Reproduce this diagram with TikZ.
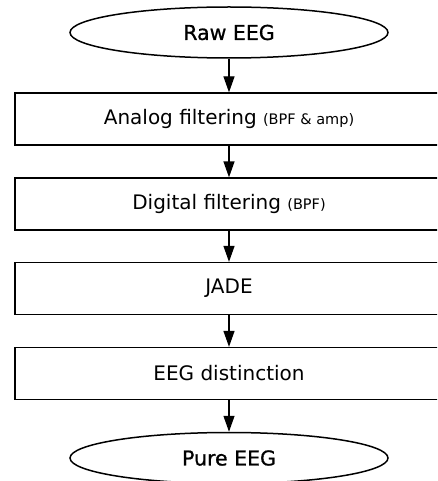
\documentclass[tikz,border=0pt]{standalone}
\usepackage{fontspec}
\setmainfont{DejaVu Sans}
\newfontfamily\termfont[FakeBold=0.8]{DejaVu Sans}
\usetikzlibrary{shapes.geometric,arrows.meta}
\tikzset{
  terminal/.style={draw, ellipse, line width=1.5pt, minimum width=318pt, minimum height=51pt, inner sep=0pt, font=\termfont\fontsize{20.5}{24}\selectfont},
  stepbox/.style={draw, rectangle, line width=1.3pt, minimum width=428pt, minimum height=52pt, inner sep=0pt, font=\fontsize{20}{24}\selectfont},
  flow/.style={line width=1.3pt, -{Triangle[length=16pt,width=11pt]}},
}
\newcommand{\paren}[1]{{\fontsize{14.5}{17}\selectfont #1}}
\begin{document}
\begin{tikzpicture}[x=1pt,y=-1pt]
\useasboundingbox (0,0) rectangle (437,481);
\begin{scope}
\clip (0,0) rectangle (437,481);
\fill[white] (0,0) rectangle (437,481);
\node[terminal] (raw) at (229,32.5) {Raw EEG};
\node[stepbox] (ana) at (229,119) {Analog filtering \paren{(BPF \& amp)}};
\node[stepbox] (dig) at (229,204) {Digital filtering \paren{(BPF)}};
\node[stepbox] (jade) at (229,288.5) {JADE};
\node[stepbox] (dist) at (229,373.5) {EEG distinction};
\node[terminal] (pure) at (229,458) {Pure EEG};
\draw[flow] (raw.south) -- (ana.north);
\draw[flow] (ana.south) -- (dig.north);
\draw[flow] (dig.south) -- (jade.north);
\draw[flow] (jade.south) -- (dist.north);
\draw[flow] (dist.south) -- (pure.north);
\end{scope}
\end{tikzpicture}
\end{document}
